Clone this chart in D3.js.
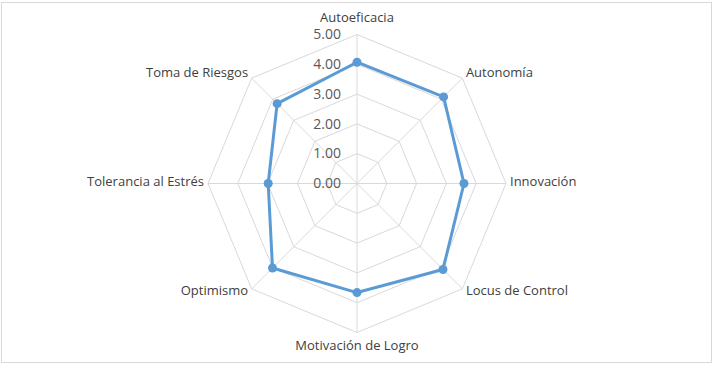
<!DOCTYPE html>
<html><head><meta charset="utf-8">
<script src="https://cdn.jsdelivr.net/npm/d3@7"></script>
<style>html,body{margin:0;padding:0;background:#fff;}svg{display:block;}</style>
</head><body>
<script>
const categories = ["Autoeficacia","Autonomía","Innovación","Locus de Control","Motivación de Logro","Optimismo","Tolerancia al Estrés","Toma de Riesgos"];
const values = [4.07, 4.11, 3.59, 4.08, 3.66, 4.01, 2.98, 3.79];
const tickValues = [0,1,2,3,4,5];
const tickLabels = ["0.00","1.00","2.00","3.00","4.00","5.00"];

const W = 716, H = 369;
const cx = 357, cy = 183.5, R = 149;
const font = "'Open Sans', 'Noto Sans', sans-serif";

const svg = d3.select("body").append("svg").attr("width", W).attr("height", H);
svg.append("rect").attr("x",1.5).attr("y",2.5).attr("width",710).attr("height",360)
  .attr("fill","#fff").attr("stroke","#d9d9d9").attr("stroke-width",1);

const r = d3.scaleLinear().domain([0,5]).range([0,R]);
const ang = d3.scalePoint().domain(categories).range([0, 2*Math.PI*(categories.length-1)/categories.length]);
const pt = (c, v) => [cx + r(v)*Math.sin(ang(c)), cy - r(v)*Math.cos(ang(c))];

const g = svg.append("g");
tickValues.forEach(t => {
  if (t === 0) return;
  g.append("polygon")
    .attr("points", categories.map(c => pt(c,t).join(",")).join(" "))
    .attr("fill","none").attr("stroke","#d9d9d9").attr("stroke-width",1);
});
categories.forEach(c => {
  const p = pt(c,5);
  g.append("line").attr("x1",cx).attr("y1",cy).attr("x2",p[0]).attr("y2",p[1])
    .attr("stroke","#d9d9d9").attr("stroke-width",1);
});
tickValues.forEach((t,i) => {
  g.append("text").attr("x", cx-16).attr("y", cy - r(t)).attr("dy","0.34em")
    .attr("text-anchor","end").attr("font-family",font).attr("font-size",14)
    .attr("fill","#595959").text(tickLabels[i]);
});
const line = d3.line().curve(d3.curveLinearClosed);
g.append("path").attr("d", line(categories.map((c,i)=>pt(c,values[i]))))
  .attr("fill","none").attr("stroke","#5b9bd5").attr("stroke-width",3).attr("stroke-linejoin","round");
g.selectAll("circle.m").data(categories).enter().append("circle")
  .attr("cx",(c,i)=>pt(c,values[i])[0]).attr("cy",(c,i)=>pt(c,values[i])[1])
  .attr("r",4.5).attr("fill","#5b9bd5");
categories.forEach(c => {
  const a = ang(c);
  const p = pt(c,5);
  const s = Math.sin(a), co = Math.cos(a);
  let anchor = Math.abs(s) < 0.01 ? "middle" : (s > 0 ? "start" : "end");
  let x, y;
  if (Math.abs(s) < 0.01) { x = p[0]; y = p[1] - co*15 - 2; }
  else if (Math.abs(co) < 0.01) { x = p[0] + s*4; y = p[1] - 2; }
  else { x = p[0] + s*5; y = p[1] - co*5 - 2; }
  g.append("text").attr("x",x).attr("y",y).attr("dy","0.36em").attr("text-anchor",anchor)
    .attr("font-family",font).attr("font-size",13).attr("fill","#404040").text(c);
});
</script>
</body></html>
